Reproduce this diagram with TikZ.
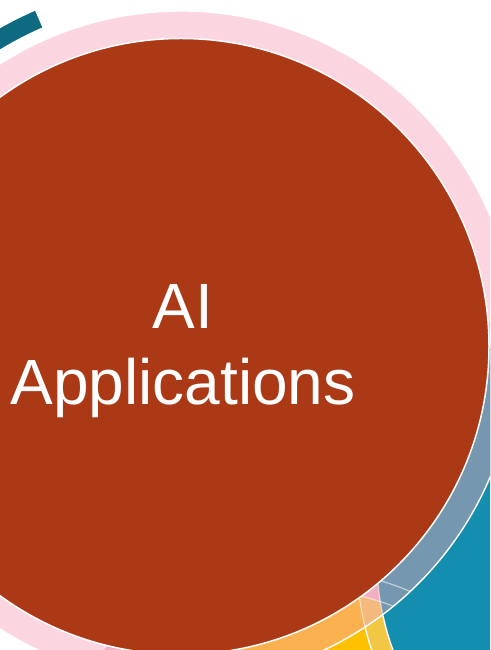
\documentclass[tikz,border=0pt]{standalone}
\usepackage{fontspec}
\setmainfont{Liberation Sans}
\definecolor{rust}{RGB}{172,57,21}
\definecolor{pinkL}{RGB}{251,214,225}
\definecolor{pinkM}{RGB}{242,175,196}
\definecolor{tealC}{RGB}{19,142,174}
\definecolor{greyblue}{RGB}{117,151,175}
\definecolor{yellowC}{RGB}{255,192,0}
\definecolor{orangeC}{RGB}{251,177,80}
\definecolor{lyellow}{RGB}{242,199,68}
\definecolor{lorange}{RGB}{244,186,125}
\definecolor{darkteal}{RGB}{14,106,128}
\tikzset{
  rimline/.style={draw=white, line width=1.4pt},
  faintline/.style={draw=white, draw opacity=0.55, line width=1.2pt},
  bigtext/.style={text=white, font=\fontsize{64}{76}\selectfont, anchor=base, inner sep=0pt}
}
\begin{document}
\begin{tikzpicture}[x=1pt,y=1pt]
\fill[white] (0,0) rectangle (490,650);
\useasboundingbox (0,0) rectangle (490,650);
\clip (0,0) rectangle (490,650);
\coordinate (c1) at (181,303.5);
\coordinate (c2) at (638,90);
\coordinate (c3) at (300,-200);
% yellow circle and teal circle with its rim
\fill[yellowC] (c3) circle[radius=261];
\begin{scope}
  \clip (c3) circle[radius=261];
  \fill[lyellow] (c2) circle[radius=281];
\end{scope}
\fill[tealC] (c2) circle[radius=261];
\path[rimline] (c2) circle[radius=281];
\path[rimline] (c2) circle[radius=261];
% pink rim zone of the main circle
\begin{scope}
  \clip (c1) circle[radius=335.5];
  \fill[pinkL] (c1) circle[radius=335.5];
  \fill[pinkM] (c3) circle[radius=281];
  \fill[orangeC] (c3) circle[radius=261];
  \fill[pinkM] (c2) circle[radius=281];
  \begin{scope}
    \clip (c3) circle[radius=261];
    \fill[lorange] (c2) circle[radius=281];
  \end{scope}
  \fill[greyblue] (c2) circle[radius=261];
  \path[faintline] (c3) circle[radius=281];
  \path[faintline] (c3) circle[radius=261];
  \path[faintline] (c2) circle[radius=281];
  \path[faintline] (c2) circle[radius=261];
\end{scope}
\path[rimline] (c1) circle[radius=335.5];
\filldraw[fill=rust, draw=white, line width=1.5pt] (c1) circle[radius=308];
% dark teal arc piece
\coordinate (b1) at ([shift={(113.5:348)}]c1);
\coordinate (b2) at ([shift={(113.5:366)}]c1);
\coordinate (b3) at ([shift={(170:348)}]c1);
\fill[darkteal] (b1) -- (b2) arc[start angle=113.5, end angle=170, radius=366] -- (b3) arc[start angle=170, end angle=113.5, radius=348] -- cycle;
\node[bigtext] (t1) at (183,321) {AI};
\node[bigtext] (t2) at (183,245) {Applications};
\end{tikzpicture}
\end{document}
